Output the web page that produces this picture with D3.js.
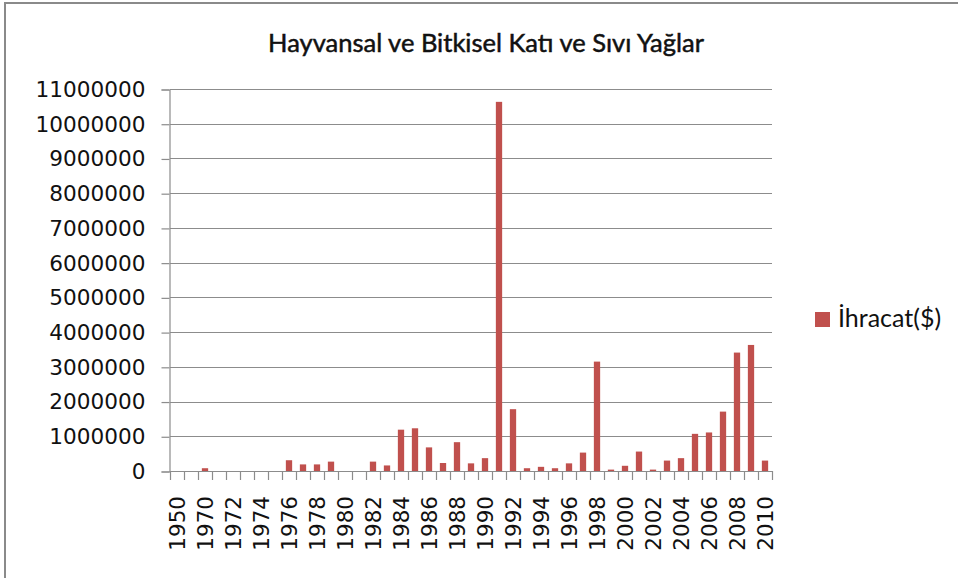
<!DOCTYPE html>
<html>
<head>
<meta charset="utf-8">
<script src="https://cdn.jsdelivr.net/npm/d3@7"></script>
<style>
  body { margin: 0; background: #fff; }
  svg { display: block; }
</style>
</head>
<body>
<svg id="chart" width="958" height="578"></svg>
<script>
// years on the category axis (1950 and 1960 then yearly from 1970)
var years = ["1950", "1960", "1970", "1971", "1972", "1973", "1974", "1975", "1976", "1977",
  "1978", "1979", "1980", "1981", "1982", "1983", "1984", "1985", "1986", "1987",
  "1988", "1989", "1990", "1991", "1992", "1993", "1994", "1995", "1996", "1997",
  "1998", "1999", "2000", "2001", "2002", "2003", "2004", "2005", "2006", "2007",
  "2008", "2009", "2010"];

// İhracat($) values
var exports = [0, 0, 80000, 0, 0, 0, 0, 0, 310000, 190000,
  190000, 270000, 0, 0, 270000, 160000, 1190000, 1230000, 680000, 230000,
  830000, 220000, 370000, 10630000, 1780000, 80000, 120000, 80000, 220000, 530000,
  3150000, 40000, 150000, 560000, 40000, 300000, 370000, 1070000, 1110000, 1710000,
  3410000, 3630000, 300000];

var yTicks = d3.range(0, 11000001, 1000000);
var seriesName = "İhracat($)";
var title = "Hayvansal ve Bitkisel Katı ve Sıvı Yağlar";

(function() {
var svg = d3.select("#chart");
var plotLeft = 170, plotRight = 772, plotTop = 89, plotBottom = 471;
var gridColor = "#8c8c8c";
var barColor = "#c0504d";

// outer chart border
svg.append("rect")
  .attr("x", 5).attr("y", 3)
  .attr("width", 1000).attr("height", 600)
  .attr("fill", "none")
  .attr("stroke", "#8a8a8a")
  .attr("stroke-width", 2);

var x = d3.scaleBand()
  .domain(years)
  .range([plotLeft, plotRight])
  .paddingInner(0.55)
  .paddingOuter(0.275);

var y = d3.scaleLinear()
  .domain([0, 11000000])
  .range([plotBottom, plotTop]);

// gridlines
svg.append("g").selectAll("line")
  .data(yTicks)
  .enter().append("line")
  .attr("x1", plotLeft).attr("x2", plotRight)
  .attr("y1", function(d) { return Math.round(y(d)) + 0.5; })
  .attr("y2", function(d) { return Math.round(y(d)) + 0.5; })
  .attr("stroke", gridColor)
  .attr("stroke-width", 1.2);

// y axis
var yAxis = svg.append("g")
  .attr("transform", "translate(" + (plotLeft - 0.5) + ",0.5)")
  .call(d3.axisLeft(y).tickValues(yTicks).tickFormat(d3.format("d")).tickSize(8).tickPadding(16));
yAxis.select(".domain").attr("stroke", gridColor).attr("stroke-width", 1.2);
yAxis.selectAll(".tick line").attr("stroke", gridColor).attr("stroke-width", 1.2);
yAxis.selectAll("text")
  .attr("fill", "#111")
  .style("font-family", "'DejaVu Sans', sans-serif")
  .style("font-size", "21.6px");

// bars
svg.append("g").selectAll("rect")
  .data(years)
  .enter().append("rect")
  .attr("x", function(d) { return x(d); })
  .attr("width", x.bandwidth())
  .attr("y", function(d, i) { return y(exports[i]); })
  .attr("height", function(d, i) { return plotBottom - y(exports[i]); })
  .attr("fill", barColor);

// x axis line and tick marks at category boundaries
var step = x.step();
var bounds = years.map(function(d) { return x(d) + x.bandwidth() / 2 - step / 2; });
bounds.push(plotRight);
svg.append("line")
  .attr("x1", plotLeft).attr("x2", plotRight)
  .attr("y1", plotBottom + 0.5).attr("y2", plotBottom + 0.5)
  .attr("stroke", gridColor).attr("stroke-width", 1.2);
svg.append("g").selectAll("line")
  .data(bounds)
  .enter().append("line")
  .attr("x1", function(d) { return Math.round(d) + 0.5; })
  .attr("x2", function(d) { return Math.round(d) + 0.5; })
  .attr("y1", plotBottom).attr("y2", plotBottom + 9)
  .attr("stroke", gridColor).attr("stroke-width", 1.2);

// every other year label, rotated
svg.append("g").selectAll("text")
  .data(years.filter(function(d, i) { return i % 2 == 0; }))
  .enter().append("text")
  .attr("transform", function(d) {
    return "translate(" + (x(d) + x.bandwidth() / 2) + "," + (plotBottom + 25) + ") rotate(-90)";
  })
  .attr("dy", "0.36em")
  .attr("text-anchor", "end")
  .attr("fill", "#111")
  .style("font-family", "'DejaVu Sans', sans-serif")
  .style("font-size", "21.5px")
  .text(function(d) { return d; });

// title (a thin stroke makes it as dark as the reference)
svg.append("text")
  .attr("x", 486).attr("y", 52)
  .attr("text-anchor", "middle")
  .attr("fill", "#111")
  .attr("stroke", "#111")
  .attr("stroke-width", 0.5)
  .style("font-family", "Lato, sans-serif")
  .style("font-size", "25.5px")
  .text(title);

// legend
var legend = svg.append("g").attr("transform", "translate(815,312)");
legend.append("rect")
  .attr("width", 15).attr("height", 15)
  .attr("fill", barColor);
legend.append("text")
  .attr("x", 23).attr("y", 15)
  .attr("fill", "#111")
  .style("font-family", "Lato, sans-serif")
  .style("font-size", "25px")
  .text(seriesName);
})();
</script>
</body>
</html>
